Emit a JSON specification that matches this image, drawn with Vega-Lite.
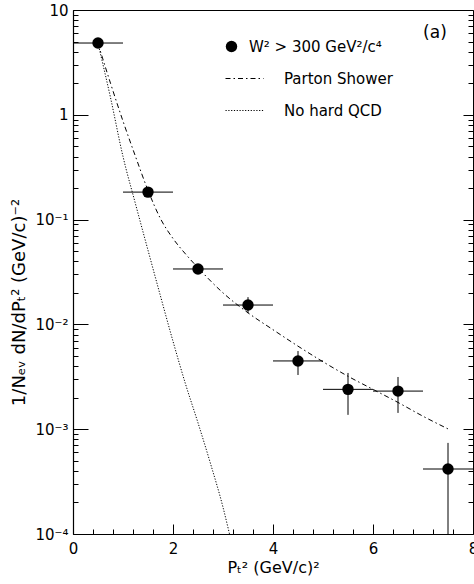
{
  "$schema": "https://vega.github.io/schema/vega-lite/v6.json",
  "width": 400,
  "height": 524,
  "autosize": {"type": "none"},
  "padding": {"left": 73, "top": 10, "right": 1, "bottom": 50},
  "background": "white",
  "config": {
    "view": {"stroke": "black", "strokeWidth": 1},
    "font": "DejaVu Sans",
    "axis": {"domainColor": "black", "labelColor": "black", "titleColor": "black", "grid": false}
  },
  "title": {"text": "(a)", "anchor": "end", "orient": "top", "offset": 0, "dy": 52, "dx": -31, "fontSize": 17, "fontWeight": "normal", "font": "DejaVu Sans", "color": "black", "baseline": "alphabetic"},
  "data": {"values": [
      {"kind": "curve", "series": "Parton Shower", "x": 0.5, "y": 4.8},
      {"kind": "curve", "series": "Parton Shower", "x": 0.75, "y": 2.0},
      {"kind": "curve", "series": "Parton Shower", "x": 1.0, "y": 0.87},
      {"kind": "curve", "series": "Parton Shower", "x": 1.25, "y": 0.40},
      {"kind": "curve", "series": "Parton Shower", "x": 1.5, "y": 0.19},
      {"kind": "curve", "series": "Parton Shower", "x": 1.75, "y": 0.102},
      {"kind": "curve", "series": "Parton Shower", "x": 2.0, "y": 0.066},
      {"kind": "curve", "series": "Parton Shower", "x": 2.25, "y": 0.047},
      {"kind": "curve", "series": "Parton Shower", "x": 2.5, "y": 0.0347},
      {"kind": "curve", "series": "Parton Shower", "x": 3.0, "y": 0.020},
      {"kind": "curve", "series": "Parton Shower", "x": 3.5, "y": 0.0129},
      {"kind": "curve", "series": "Parton Shower", "x": 4.0, "y": 0.0089},
      {"kind": "curve", "series": "Parton Shower", "x": 4.5, "y": 0.0062},
      {"kind": "curve", "series": "Parton Shower", "x": 5.0, "y": 0.0044},
      {"kind": "curve", "series": "Parton Shower", "x": 5.5, "y": 0.0032},
      {"kind": "curve", "series": "Parton Shower", "x": 6.0, "y": 0.0024},
      {"kind": "curve", "series": "Parton Shower", "x": 6.5, "y": 0.0018},
      {"kind": "curve", "series": "Parton Shower", "x": 7.0, "y": 0.00133},
      {"kind": "curve", "series": "Parton Shower", "x": 7.55, "y": 0.00098},
      {"kind": "curve", "series": "No hard QCD", "x": 0.5, "y": 4.8},
      {"kind": "curve", "series": "No hard QCD", "x": 0.75, "y": 1.46},
      {"kind": "curve", "series": "No hard QCD", "x": 1.0, "y": 0.40},
      {"kind": "curve", "series": "No hard QCD", "x": 1.25, "y": 0.141},
      {"kind": "curve", "series": "No hard QCD", "x": 1.5, "y": 0.051},
      {"kind": "curve", "series": "No hard QCD", "x": 1.75, "y": 0.0186},
      {"kind": "curve", "series": "No hard QCD", "x": 2.0, "y": 0.0069},
      {"kind": "curve", "series": "No hard QCD", "x": 2.25, "y": 0.0027},
      {"kind": "curve", "series": "No hard QCD", "x": 2.5, "y": 0.00115},
      {"kind": "curve", "series": "No hard QCD", "x": 2.75, "y": 0.00047},
      {"kind": "curve", "series": "No hard QCD", "x": 3.0, "y": 0.00018},
      {"kind": "curve", "series": "No hard QCD", "x": 3.13, "y": 0.0001},
      {"kind": "data", "series": "W² > 300 GeV²/c⁴", "x": 0.5, "xlo": 0, "xhi": 1, "y": 4.84, "ylo": 4.84, "yhi": 4.84},
      {"kind": "data", "series": "W² > 300 GeV²/c⁴", "x": 1.5, "xlo": 1, "xhi": 2, "y": 0.183, "ylo": 0.183, "yhi": 0.183},
      {"kind": "data", "series": "W² > 300 GeV²/c⁴", "x": 2.5, "xlo": 2, "xhi": 3, "y": 0.0338, "ylo": 0.0338, "yhi": 0.0338},
      {"kind": "data", "series": "W² > 300 GeV²/c⁴", "x": 3.5, "xlo": 3, "xhi": 4, "y": 0.0153, "ylo": 0.0128, "yhi": 0.0182},
      {"kind": "data", "series": "W² > 300 GeV²/c⁴", "x": 4.5, "xlo": 4, "xhi": 5, "y": 0.00448, "ylo": 0.00329, "yhi": 0.00557},
      {"kind": "data", "series": "W² > 300 GeV²/c⁴", "x": 5.5, "xlo": 5, "xhi": 6, "y": 0.0024, "ylo": 0.00137, "yhi": 0.00344},
      {"kind": "data", "series": "W² > 300 GeV²/c⁴", "x": 6.5, "xlo": 6, "xhi": 7, "y": 0.00231, "ylo": 0.00143, "yhi": 0.00315},
      {"kind": "data", "series": "W² > 300 GeV²/c⁴", "x": 7.5, "xlo": 7, "xhi": 8, "y": 0.000417, "ylo": 0.0001, "yhi": 0.00074}
  ]},
  "resolve": {"axis": {"x": "independent", "y": "independent"}},
  "layer": [
    {
      "transform": [{"filter": "datum.kind == 'curve'"}],
      "mark": {"type": "line", "interpolate": "monotone", "strokeWidth": 1, "color": "black", "clip": true},
      "encoding": {
        "x": {"field": "x", "type": "quantitative", "scale": {"domain": [0, 8], "nice": false, "zero": false},
          "axis": {"orient": "bottom", "tickCount": 4, "format": "d", "ticks": false, "domainWidth": 1.2,
            "labelPadding": 7, "labelFontSize": 15, "labelFlush": false, "labelOverlap": false, "labelFont": "DejaVu Sans", "titleFont": "DejaVu Sans", "titleFontWeight": "normal",
            "title": "Pₜ²  (GeV/c)²", "titleFontSize": 16, "titlePadding": 3}},
        "y": {"field": "y", "type": "quantitative", "scale": {"type": "log", "domain": [0.0001, 10], "nice": false},
          "axis": {"orient": "left", "tickCount": 5, "ticks": false, "domainWidth": 1.2,
            "labelExpr": "datum.value >= 5 ? '10' : datum.value >= 0.5 ? '1' : datum.value >= 0.05 ? '10⁻¹' : datum.value >= 0.005 ? '10⁻²' : datum.value >= 0.0005 ? '10⁻³' : '10⁻⁴'",
            "labelPadding": 5, "labelFontSize": 15, "labelFlush": false, "labelOverlap": false, "labelFont": "DejaVu Sans", "titleFont": "DejaVu Sans", "titleFontWeight": "normal",
            "title": "1/Nₑᵥ  dN/dPₜ²    (GeV/c)⁻²", "titleFontSize": 18, "titlePadding": 6, "titleY": 292}},
        "strokeDash": {"field": "series", "type": "nominal",
          "scale": {"domain": ["Parton Shower", "No hard QCD"], "range": [[5, 3, 1.5, 3], [1.2, 1.6]]},
          "legend": {"orient": "none", "legendX": 152, "legendY": 49, "title": null, "symbolType": "stroke", "symbolSize": 1444, "symbolStrokeWidth": 1, "symbolStrokeColor": "black", "labelFontSize": 15, "labelFont": "DejaVu Sans", "labelColor": "black", "labelOffset": 20, "rowPadding": 4, "padding": 0}}
      }
    },
    {
      "transform": [{"filter": "datum.kind == 'data'"}],
      "mark": {"type": "rule", "color": "black", "strokeWidth": 1, "clip": true},
      "encoding": {
        "x": {"field": "xlo", "type": "quantitative", "axis": null},
        "x2": {"field": "xhi"},
        "y": {"field": "y", "type": "quantitative", "axis": null}
      }
    },
    {
      "transform": [{"filter": "datum.kind == 'data'"}],
      "mark": {"type": "rule", "color": "black", "strokeWidth": 1, "clip": true},
      "encoding": {
        "x": {"field": "x", "type": "quantitative", "axis": null},
        "y": {"field": "ylo", "type": "quantitative", "axis": null},
        "y2": {"field": "yhi"}
      }
    },
    {
      "transform": [{"filter": "datum.kind == 'data'"}],
      "mark": {"type": "point", "filled": true, "color": "black", "opacity": 1, "size": 130},
      "encoding": {
        "x": {"field": "x", "type": "quantitative", "axis": null},
        "y": {"field": "y", "type": "quantitative", "axis": null},
        "shape": {"field": "series", "type": "nominal", "scale": {"range": ["circle"]},
          "legend": {"orient": "none", "legendX": 151, "legendY": 29, "title": null, "symbolSize": 130, "symbolFillColor": "black", "symbolStrokeColor": "black", "labelFontSize": 15, "labelFont": "DejaVu Sans", "labelColor": "black", "labelOffset": 10, "padding": 0}}
      }
    },
    {
      "mark": {"type": "point", "opacity": 0},
      "encoding": {
        "x": {"field": "x", "type": "quantitative",
          "axis": {"orient": "bottom", "labels": false, "title": null, "domain": false, "tickSize": 10, "offset": -10, "tickColor": "black",
            "tickOpacity": {"condition": {"test": "datum.value == 2 || datum.value == 4 || datum.value == 6", "value": 1}, "value": 0}}},
        "y": {"field": "y", "type": "quantitative",
          "axis": {"orient": "left", "labels": false, "title": null, "domain": false, "tickSize": 15, "offset": -15, "tickColor": "black",
            "tickOpacity": {"condition": {"test": "abs(log(datum.value)/LN10 - round(log(datum.value)/LN10)) < 0.001 && datum.value > 0.0002 && datum.value < 5", "value": 1}, "value": 0}}}
      }
    },
    {
      "mark": {"type": "point", "opacity": 0},
      "encoding": {
        "x": {"field": "x", "type": "quantitative",
          "axis": {"orient": "bottom", "values": [0.4,0.8,1.2,1.6,2.4,2.8,3.2,3.6,4.4,4.8,5.2,5.6,6.4,6.8,7.2,7.6], "labels": false, "title": null, "tickSize": 5, "offset": -5, "domain": false, "tickColor": "black"}},
        "y": {"field": "y", "type": "quantitative",
          "axis": {"orient": "left", "labels": false, "title": null, "domain": false, "tickSize": 5, "offset": -5, "tickColor": "black"}}
      }
    },
    {
      "mark": {"type": "point", "opacity": 0},
      "encoding": {
        "x": {"field": "x", "type": "quantitative", "axis": null},
        "y": {"field": "y", "type": "quantitative",
          "axis": {"orient": "right", "labels": false, "title": null, "domain": false, "tickSize": 10, "offset": -10, "tickColor": "black",
            "tickOpacity": {"condition": {"test": "abs(log(datum.value)/LN10 - round(log(datum.value)/LN10)) < 0.001 && datum.value > 0.0002 && datum.value < 5", "value": 1}, "value": 0}}}
      }
    },
    {
      "mark": {"type": "point", "opacity": 0},
      "encoding": {
        "x": {"field": "x", "type": "quantitative", "axis": null},
        "y": {"field": "y", "type": "quantitative",
          "axis": {"orient": "right", "labels": false, "title": null, "domain": false, "tickSize": 5, "offset": -5, "tickColor": "black"}}
      }
    }
  ]
}
